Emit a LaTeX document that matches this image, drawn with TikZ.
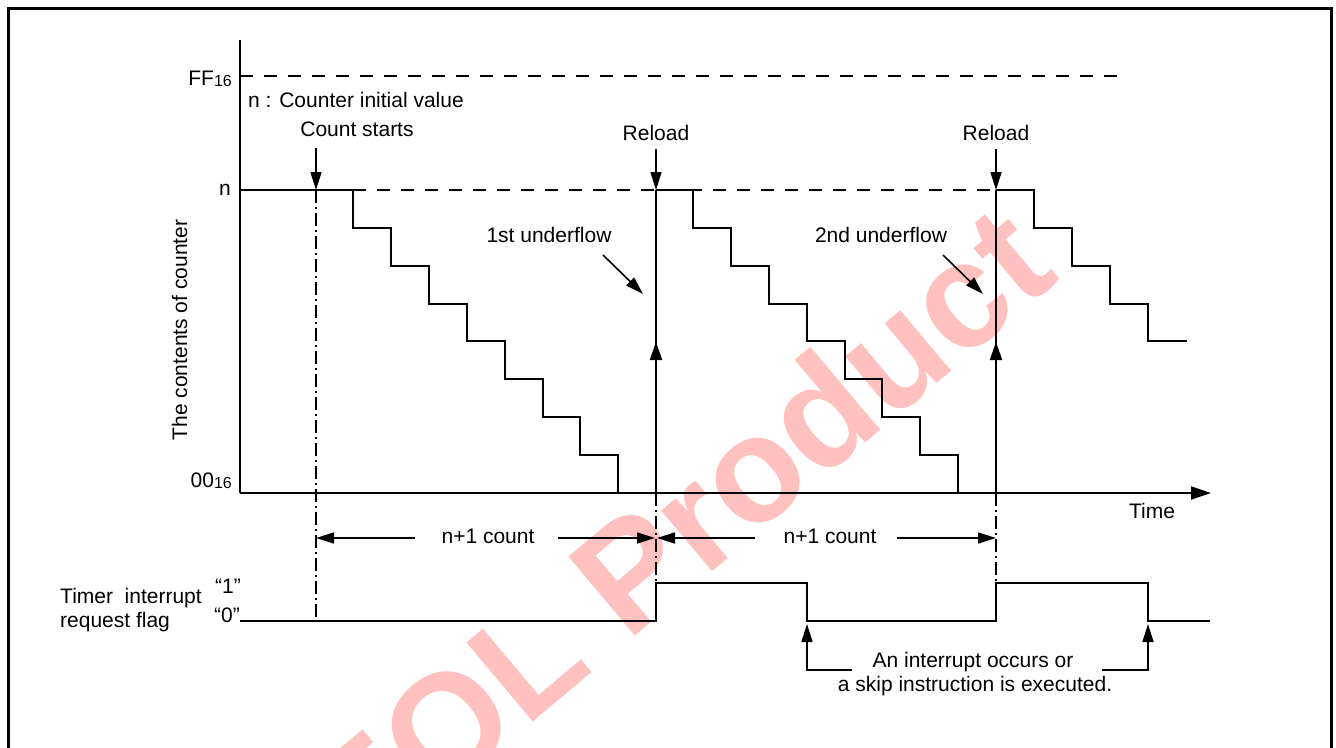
\documentclass[tikz,border=0pt]{standalone}
\usepackage{fontspec}
\setmainfont{Liberation Sans}
\usetikzlibrary{arrows.meta}
\definecolor{wmark}{RGB}{255,192,192}
\newcommand{\sixteen}{{\fontsize{16}{16}\selectfont\raisebox{-1pt}{16}}}
\begin{document}
\begin{tikzpicture}[x=1pt,y=-1pt,
  lbl/.style={font=\fontsize{21}{24}\selectfont, inner sep=0pt},
  sig/.style={line width=2.5pt, line join=miter},
  ax/.style={line width=2pt},
  arr/.style={line width=1.6pt,-{Triangle[length=18pt,width=11pt]}},
  dsh/.style={line width=1.5pt, dash pattern=on 13pt off 11pt},
  ddot/.style={line width=1.3pt, dash pattern=on 13pt off 4pt on 2pt off 4pt},
]
\useasboundingbox (0,0) rectangle (1336,747);
% watermark
\node[rotate=40, text=wmark, font=\fontsize{150}{150}\selectfont\bfseries, inner sep=0pt] (wm) at (676,532) {EOL Product};
% frame
\draw[line width=3pt] (8,790) -- (8,8) -- (1331,8) -- (1331,790);

% axes
\coordinate (ytop) at (240,40);
\coordinate (orig) at (240,493);
\coordinate (xend) at (1211,493);
\draw[ax] (ytop) -- (orig);
\draw[ax,-{Triangle[length=20pt,width=13pt]}] (orig) -- (xend);

% reference levels
\coordinate (ffl) at (240,76);
\coordinate (ffr) at (1117,76);
\coordinate (nl) at (353,190);
\coordinate (nr) at (996,190);
\draw[dsh] (ffl) -- (ffr);
\draw[dsh] (nl) -- (nr);

% axis labels
\node[lbl, anchor=base east] (ff) at (232,85) {FF\sixteen};
\node[lbl, anchor=base east] (nlab) at (231,195) {n};
\node[lbl, anchor=base east] (zz) at (232,487) {00\sixteen};
\node[lbl, anchor=base, rotate=90] (ylab) at (187,330) {The contents of counter};
\node[lbl, anchor=base] (time) at (1152,518) {Time};
\node[lbl, anchor=base west] (init) at (248,107) {n : Counter initial value};

% staircases
\draw[sig] (240,190) -| (353,228) -| (391,266) -| (429,304) -| (467,341) -| (505,379) -| (543,417) -| (580,455) -| (618,493) -- (656,493);
\draw[sig] (656,190) -| (693,228) -| (731,266) -| (769,304) -| (807,341) -| (845,379) -| (882,417) -| (920,455) -| (958,493) -- (996,493);
\draw[sig] (996,190) -| (1034,228) -| (1072,266) -| (1110,304) -| (1148,341) -- (1187,341);

% reload verticals
\coordinate (r1b) at (656,493);
\coordinate (r1t) at (656,190);
\coordinate (r1m) at (656,342);
\coordinate (r2b) at (996,493);
\coordinate (r2t) at (996,190);
\coordinate (r2m) at (996,342);
\draw[sig] (r1b) -- (r1t);
\draw[sig] (r2b) -- (r2t);
\draw[line width=2pt,-{Triangle[length=18pt,width=12pt]}] (r1b) -- (r1m);
\draw[line width=2pt,-{Triangle[length=18pt,width=12pt]}] (r2b) -- (r2m);

% top labels and arrows
\node[lbl, anchor=base] (cs) at (357,136) {Count starts};
\node[lbl, anchor=base] (rl1) at (656,140) {Reload};
\node[lbl, anchor=base] (rl2) at (996,140) {Reload};
\coordinate (csa) at (316,148);
\coordinate (cst) at (316,190);
\coordinate (rl1a) at (656,149);
\coordinate (rl2a) at (996,149);
\draw[arr] (csa) -- (cst);
\draw[arr] (rl1a) -- (r1t);
\draw[arr] (rl2a) -- (r2t);

\node[lbl, anchor=base] (uf1) at (549,242) {1st underflow};
\node[lbl, anchor=base] (uf2) at (881,242) {2nd underflow};
\coordinate (uf1a) at (603,255);
\coordinate (uf1b) at (643,294);
\coordinate (uf2a) at (943,255);
\coordinate (uf2b) at (983,294);
\draw[arr] (uf1a) -- (uf1b);
\draw[arr] (uf2a) -- (uf2b);

% dash-dot guides
\coordinate (g1b) at (316,620);
\coordinate (g2b) at (656,583);
\coordinate (g3b) at (996,583);
\draw[ddot] (cst) -- (g1b);
\draw[ddot] (r1b) -- (g2b);
\draw[ddot] (r2b) -- (g3b);

% n+1 count dimensions
\node[lbl, anchor=base] (c1) at (488,543) {n+1 count};
\node[lbl, anchor=base] (c2) at (830,543) {n+1 count};
\coordinate (d1a) at (415,538);
\coordinate (d1l) at (316,538);
\coordinate (d1b) at (558,538);
\coordinate (d1r) at (655,538);
\coordinate (d2a) at (755,538);
\coordinate (d2l) at (657,538);
\coordinate (d2b) at (897,538);
\coordinate (d2r) at (996,538);
\draw[arr] (d1a) -- (d1l);
\draw[arr] (d1b) -- (d1r);
\draw[arr] (d2a) -- (d2l);
\draw[arr] (d2b) -- (d2r);

% flag waveform
\draw[sig] (240,621) -- (656,621) -- (656,583) -- (807,583) -- (807,621) -- (996,621) -- (996,583) -- (1148,583) -- (1148,621) -- (1210,621);
\node[lbl, anchor=base west] (tf1) at (60,603) {Timer\ \ interrupt};
\node[lbl, anchor=base west] (tf2) at (60,627) {request flag};
\node[lbl, anchor=base east] (one) at (241,593) {“1”};
\node[lbl, anchor=base east] (zero) at (240,622) {“0”};

% interrupt arrows
\coordinate (i1t) at (807,624);
\coordinate (i1c) at (807,670);
\coordinate (i1e) at (852,670);
\coordinate (i2t) at (1148,624);
\coordinate (i2c) at (1148,670);
\coordinate (i2e) at (1102,670);
\draw[line width=1.6pt,{Triangle[length=18pt,width=11pt]}-] (i1t) -- (i1c) -- (i1e);
\draw[line width=1.6pt,{Triangle[length=18pt,width=11pt]}-] (i2t) -- (i2c) -- (i2e);
\node[lbl, anchor=base] (it1) at (973,667) {An interrupt occurs or};
\node[lbl, anchor=base] (it2) at (975,691) {a skip instruction is executed.};
\end{tikzpicture}
\end{document}
